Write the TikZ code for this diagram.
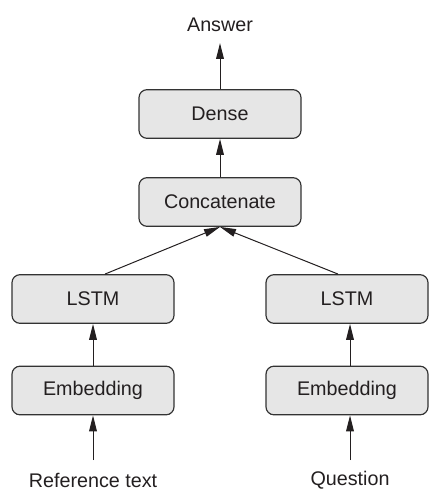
\documentclass[tikz,border=0pt]{standalone}
\usepackage{fontspec}
\setmainfont{Liberation Sans}
\usetikzlibrary{arrows.meta}
\definecolor{boxfill}{HTML}{E6E6E6}
\definecolor{boxline}{HTML}{333333}
\definecolor{ink}{HTML}{231F20}
\tikzset{
  layerbox/.style={draw=boxline, line width=0.9pt, fill=boxfill, rounded corners=6pt,
    minimum width=121.5pt, minimum height=36.5pt, inner sep=0pt, text=ink,
    font=\fontsize{14.8}{17}\selectfont},
  label text/.style={inner sep=0pt, text=ink, font=\fontsize{14.8}{17}\selectfont},
  flow/.style={draw=ink, line width=0.75pt, -{Triangle[length=12pt,width=5.8pt]}}
}
\begin{document}
\begin{tikzpicture}[x=0.75pt,y=-0.75pt]
\useasboundingbox (0,0) rectangle (443,503);
\node[layerbox] (dense) at (220,114) {Dense};
\node[layerbox] (concat) at (220,202) {Concatenate};
\node[layerbox] (lstmL) at (93,299) {LSTM};
\node[layerbox] (embL) at (93,390.5) {Embedding};
\node[layerbox] (lstmR) at (347,299) {LSTM};
\node[layerbox] (embR) at (347,390.5) {Embedding};
\node[label text] (answer) at (220,25) {Answer};
\node[label text] (ref) at (93,480) {Reference text};
\node[label text] (quest) at (350,480) {Question};
\coordinate (ansend) at (220,43);
\coordinate (refstart) at (93,460);
\coordinate (qstart) at (350,460);
\draw[flow] (dense.north) -- (ansend);
\draw[flow] (concat.north) -- (dense.south);
\draw[flow] ([xshift=9pt]lstmL.north) -- (concat.south);
\draw[flow] ([xshift=-6.75pt]lstmR.north) -- (concat.south);
\draw[flow] (embL.north) -- (lstmL.south);
\draw[flow] (embR.north -| qstart) -- (lstmR.south -| qstart);
\draw[flow] (refstart) -- (embL.south);
\draw[flow] (qstart) -- (embR.south -| qstart);
\end{tikzpicture}
\end{document}
